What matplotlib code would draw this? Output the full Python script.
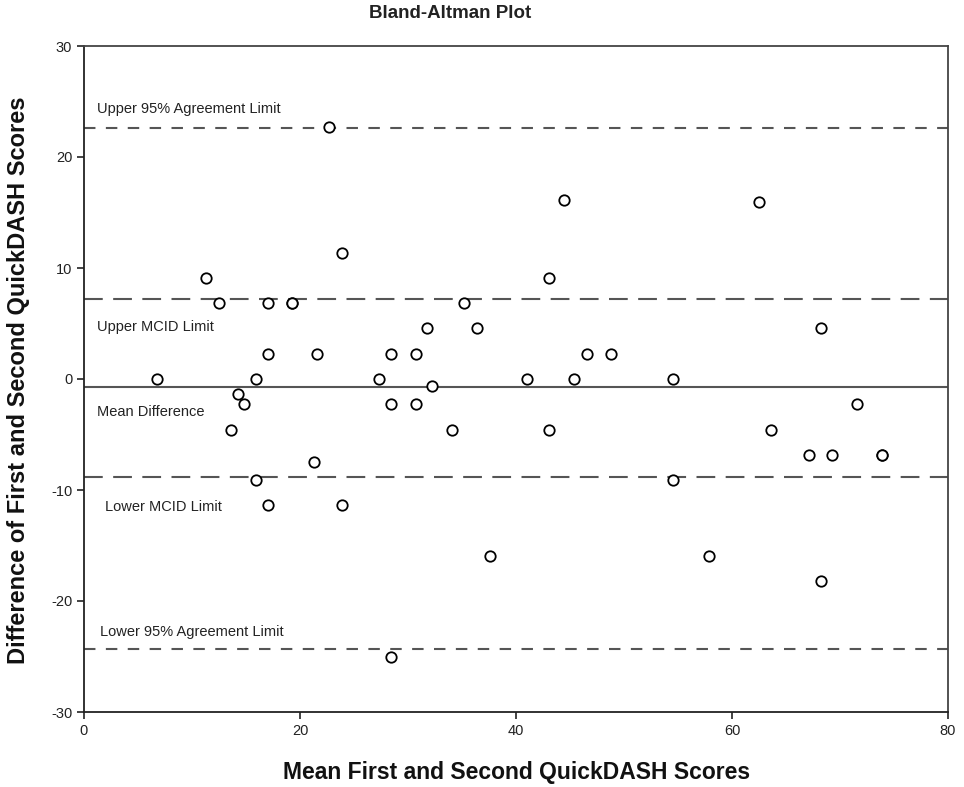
import matplotlib
matplotlib.use("Agg")
import matplotlib.pyplot as plt

# Data
mean_scores = [22.7, 23.9, 11.3, 12.5, 17.0, 19.3, 19.3, 35.2, 31.8, 36.4,
               17.0, 21.6, 28.4, 30.7, 6.8, 15.9, 27.3,
               44.4, 62.5, 43.1, 68.2, 46.6, 48.8, 41.0, 45.4, 54.5,
               32.2, 14.3, 14.8, 28.4, 30.7, 13.6, 34.1, 21.3, 15.9, 17.0,
               23.9, 37.6, 28.4,
               71.6, 43.1, 63.6, 67.1, 69.3, 73.9, 73.9, 54.5, 57.9, 68.2]
differences = [22.73, 11.36, 9.09, 6.82, 6.82, 6.82, 6.82, 6.82, 4.55, 4.55,
               2.27, 2.27, 2.27, 2.27, 0.0, 0.0, 0.0,
               16.1, 15.91, 9.09, 4.55, 2.27, 2.27, 0.0, 0.0, 0.0,
               -0.6, -1.36, -2.27, -2.27, -2.27, -4.55, -4.55, -7.5, -9.09, -11.36,
               -11.36, -15.91, -25.0,
               -2.27, -4.55, -4.55, -6.82, -6.82, -6.82, -6.82, -9.09, -15.91, -18.18]

upper_loa = 22.65
upper_mcid = 7.2
mean_diff = -0.69
lower_mcid = -8.8
lower_loa = -24.3

x_ticks = [0, 20, 40, 60, 80]
y_ticks = [-30, -20, -10, 0, 10, 20, 30]

plt.rcParams['font.family'] = ['Liberation Sans', 'DejaVu Sans']
plt.rcParams['axes.unicode_minus'] = False

fig = plt.figure(figsize=(9.64, 7.87), dpi=100)
ax = fig.add_axes([84/964, 1-712/787, (948-84)/964, (712-46)/787])

line_col = '#555555'
ax.axhline(upper_loa, color=line_col, lw=1.5, ls=(0, (5.5, 5)))
ax.axhline(lower_loa, color=line_col, lw=1.5, ls=(0, (5.5, 5)))
ax.axhline(upper_mcid, color=line_col, lw=1.5, ls=(0, (9, 5)))
ax.axhline(lower_mcid, color=line_col, lw=1.5, ls=(0, (9, 5)))
ax.axhline(mean_diff, color=line_col, lw=1.5, ls='-')

ax.plot(mean_scores, differences, 'o', mfc='white', mec='black', mew=1.3,
        ms=7.5, ls='none', zorder=5)

ax.set_xlim(0, 80)
ax.set_ylim(-30, 30)
ax.set_xticks(x_ticks)
ax.set_yticks(y_ticks)
ax.tick_params(direction='out', length=5, width=1.2, labelsize=10.5, colors='#222222')
for s in ax.spines.values():
    s.set_linewidth(1.3)
    s.set_color('#444444')
ax.spines['left'].set_color('#222222')
ax.spines['bottom'].set_color('#222222')

lab_kw = dict(fontsize=10.5, color='#222222', va='center', ha='left',
              transform=ax.transData)
ax.text(1.2, 24.3, 'Upper 95% Agreement Limit', **lab_kw)
ax.text(1.2, 4.7, 'Upper MCID Limit', **lab_kw)
ax.text(1.2, -2.95, 'Mean Difference', **lab_kw)
ax.text(1.95, -11.5, 'Lower MCID Limit', **lab_kw)
ax.text(1.5, -22.8, 'Lower 95% Agreement Limit', **lab_kw)

fig.text(450/964, 1-14/787, 'Bland-Altman Plot', ha='center', va='center',
         fontsize=13.5, fontweight='bold', color='#222222')
fig.text(517/964, 1-773/787, 'Mean First and Second QuickDASH Scores', ha='center',
         va='center', fontsize=16.5, fontweight='bold', color='#111111')
fig.text(19/964, 1-380/787, 'Difference of First and Second QuickDASH Scores',
         ha='center', va='center', rotation=90, fontsize=17, fontweight='bold',
         color='#111111')

fig.savefig('out.png', dpi=100)
